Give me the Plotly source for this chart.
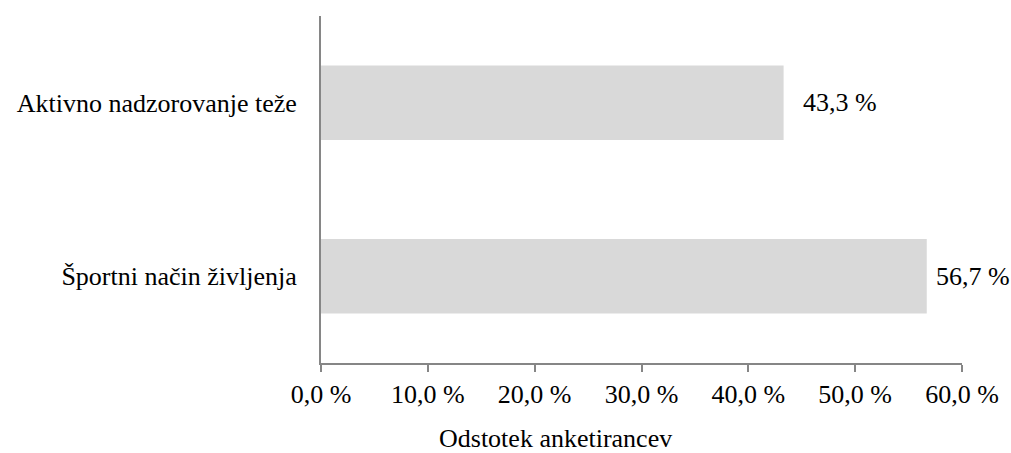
import plotly.graph_objects as go

# Survey answers (share of respondents, %)
categories = ["Aktivno nadzorovanje teže", "Športni način življenja"]
values = [43.3, 56.7]
value_labels = ["43,3 %", "56,7 %"]

# X axis ticks
tick_values = [0, 10, 20, 30, 40, 50, 60]
tick_labels = ["0,0 %", "10,0 %", "20,0 %", "30,0 %", "40,0 %", "50,0 %", "60,0 %"]

axis_title = "Odstotek anketirancev"

FONT = "Liberation Serif"
FS = 26
AXIS_GREY = "#868686"

fig = go.Figure(
    go.Bar(
        y=categories,
        x=values,
        orientation="h",
        marker=dict(color="#d9d9d9", line=dict(width=0)),
        hoverinfo="skip",
    )
)

# Value labels to the right of each bar (last one pulled in to stay on the canvas)
label_shift = [17, 7]
for cat, val, lab, sh in zip(categories, values, value_labels, label_shift):
    fig.add_annotation(
        x=val, y=cat, xref="x", yref="y",
        text=lab, showarrow=False,
        xanchor="left", yanchor="middle", xshift=sh,
        font=dict(family=FONT, size=FS, color="black"),
    )

fig.add_annotation(
    x=0.3655, y=-0.219, xref="paper", yref="paper",
    text=axis_title, showarrow=False,
    xanchor="center", yanchor="middle",
    font=dict(family=FONT, size=FS, color="black"),
)

fig.update_layout(
    width=1011, height=453,
    margin=dict(l=321, r=47, t=16, b=90),
    paper_bgcolor="white", plot_bgcolor="white",
    bargap=0.57,
    showlegend=False,
    font=dict(family=FONT, size=FS, color="black"),
)

fig.update_xaxes(
    range=[0, 60],
    tickvals=tick_values, ticktext=tick_labels,
    showgrid=False, zeroline=False,
    showline=True, linecolor=AXIS_GREY, linewidth=2,
    ticks="outside", ticklen=7, tickwidth=2, tickcolor=AXIS_GREY,
    tickfont=dict(family=FONT, size=FS, color="black"),
)

fig.update_yaxes(
    autorange="reversed",
    showgrid=False, zeroline=False,
    showline=True, linecolor=AXIS_GREY, linewidth=2,
    ticks="", ticklabelstandoff=17,
    tickfont=dict(family=FONT, size=FS, color="black"),
)

fig.write_html("out.html")
